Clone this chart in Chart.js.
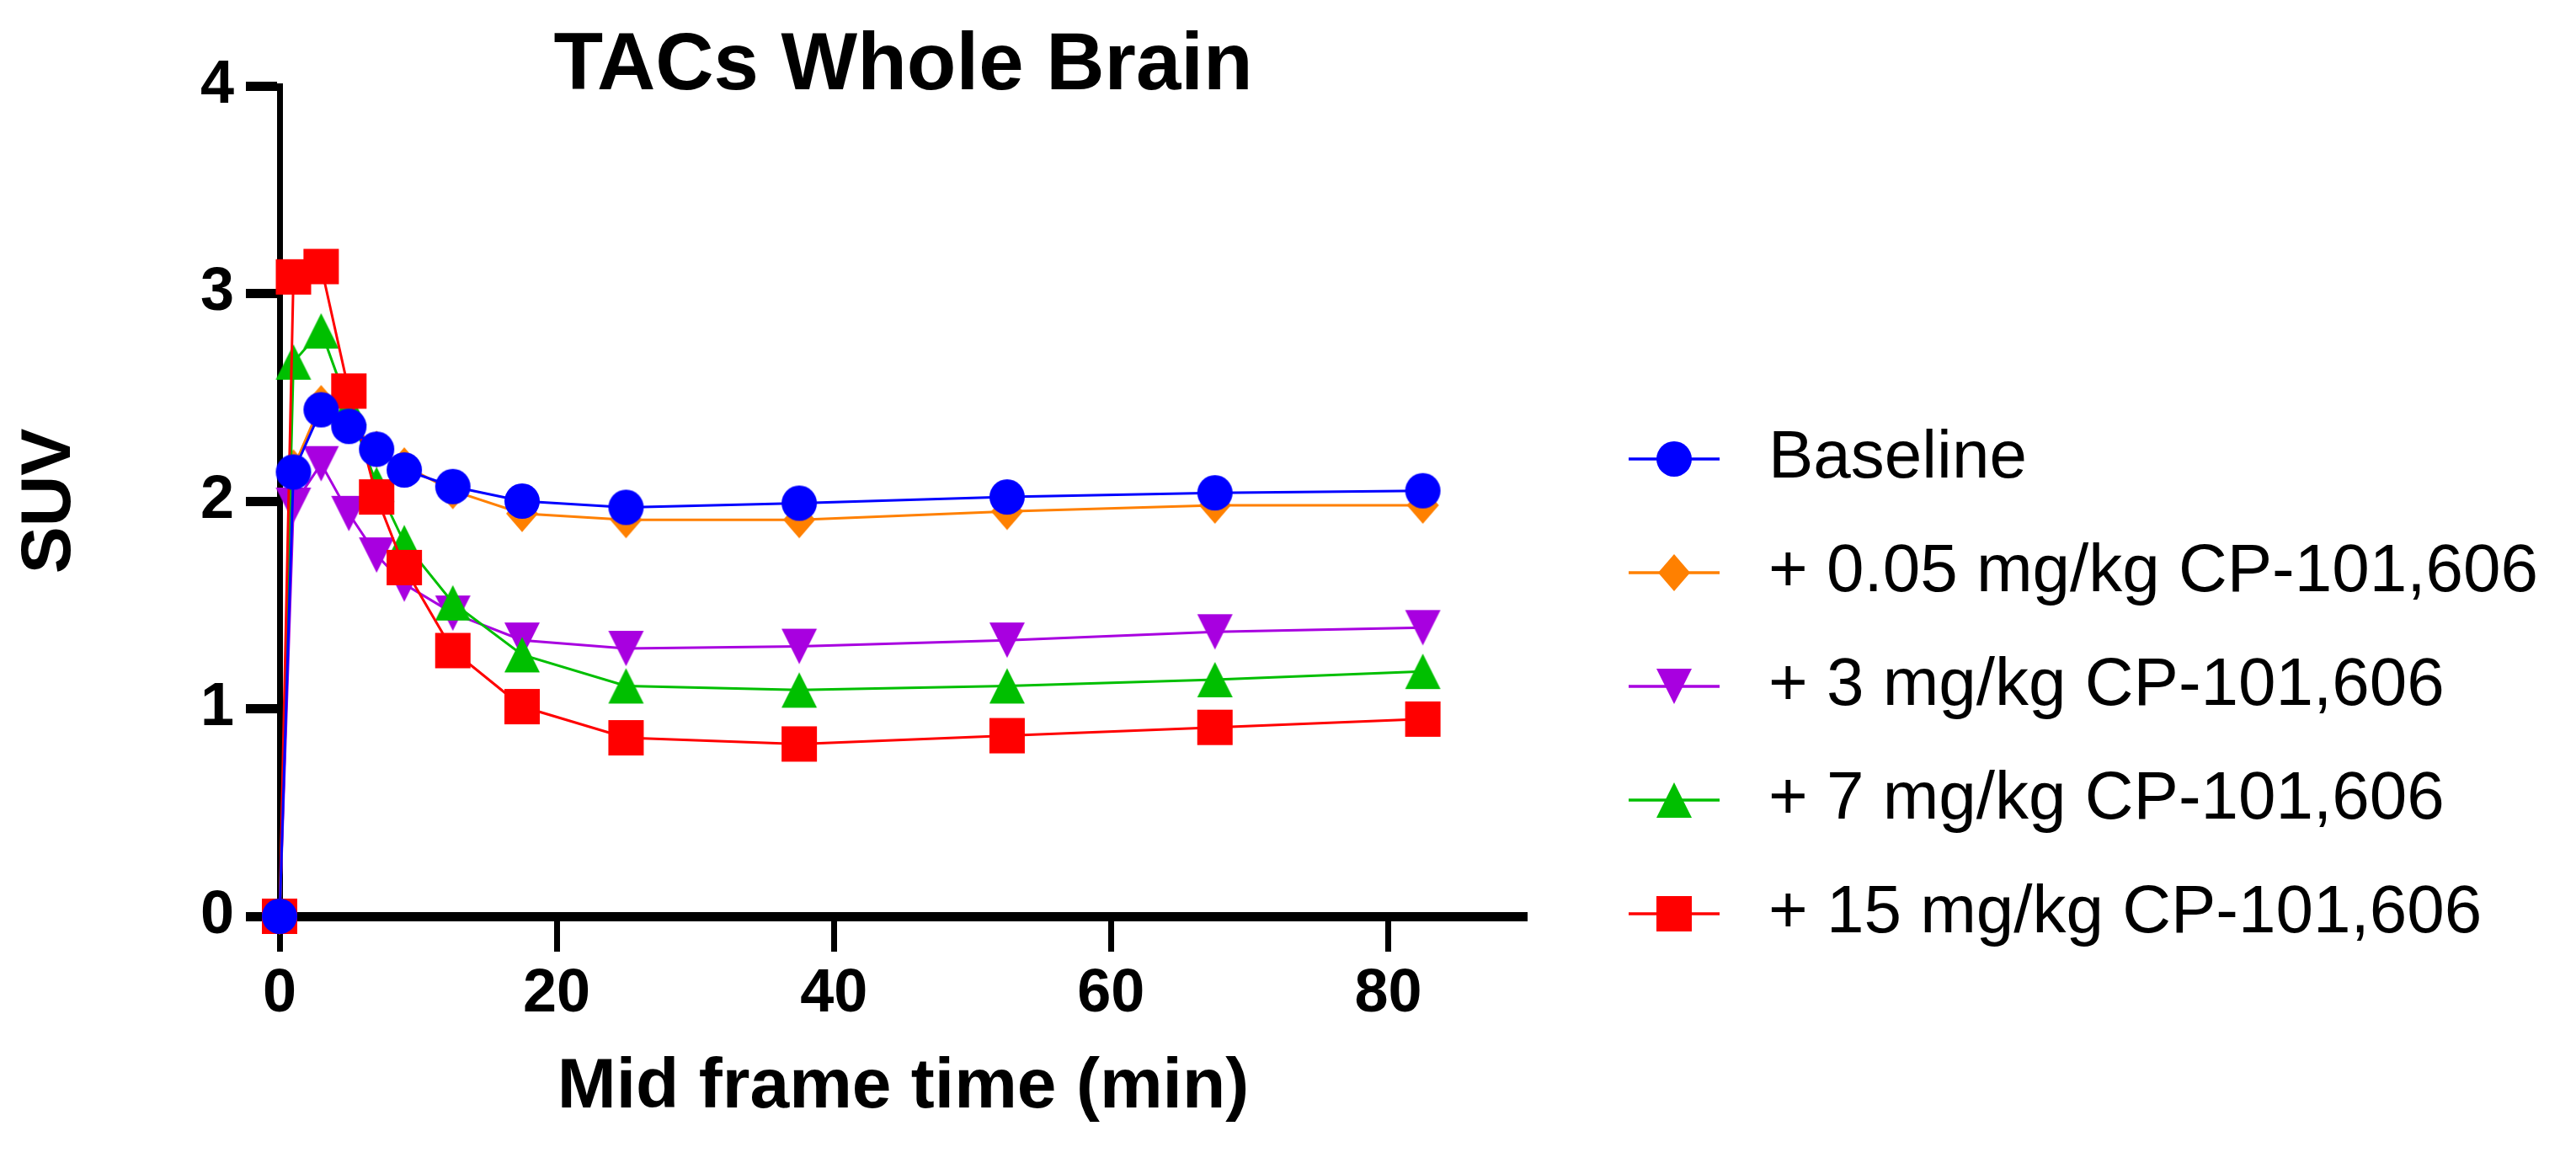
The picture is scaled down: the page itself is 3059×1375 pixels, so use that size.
<!DOCTYPE html>
<html>
<head>
<meta charset="utf-8">
<script src="https://cdn.jsdelivr.net/npm/chart.js@4.4.1/dist/chart.umd.min.js"></script>
<style>
  html, body { margin: 0; padding: 0; background: #ffffff; }
  #wrap { width: 3059px; height: 1375px; position: relative; }
</style>
</head>
<body>
<div id="wrap"><canvas id="c"></canvas></div>
<script>
// ---- data ----
const times      = [0, 1, 3, 5, 7, 9, 12.5, 17.5, 25, 37.5, 52.5, 67.5, 82.5];
const baseline   = [0, 2.14, 2.44, 2.36, 2.25, 2.15, 2.07, 2.00, 1.97, 1.99, 2.02, 2.04, 2.05];
const dose005    = [0, 2.16, 2.47, 2.38, 2.25, 2.17, 2.05, 1.94, 1.91, 1.91, 1.95, 1.98, 1.98];
const dose3      = [0, 1.98, 2.18, 1.94, 1.74, 1.60, 1.46, 1.33, 1.29, 1.30, 1.33, 1.37, 1.39];
const dose7      = [0, 2.67, 2.82, 2.45, 2.08, 1.80, 1.51, 1.26, 1.11, 1.09, 1.11, 1.14, 1.18];
const dose15     = [0, 3.08, 3.13, 2.53, 2.02, 1.68, 1.28, 1.01, 0.86, 0.83, 0.87, 0.91, 0.95];
const seriesNames = ['Baseline', '+ 0.05 mg/kg CP-101,606', '+ 3 mg/kg CP-101,606',
                     '+ 7 mg/kg CP-101,606', '+ 15 mg/kg CP-101,606'];
const xTickValues = [0, 20, 40, 60, 80];
const yTickValues = [0, 1, 2, 3, 4];
const chartTitle = 'TACs Whole Brain';
const xTitle = 'Mid frame time (min)';
const yTitle = 'SUV';

// ---- styling ----
const FONT = "'Liberation Sans', Arial, Helvetica, sans-serif";
const colors = ['#0000FF', '#FF8000', '#A800E0', '#00BF00', '#FF0000'];
const shapes = ['circle', 'diamond', 'triDown', 'triUp', 'square'];
const drawOrder = [0, 4, 3, 2, 1];   // lower = drawn on top
const seriesValues = [baseline, dose005, dose3, dose7, dose15];

function drawShape(ctx, shape, cx, cy, color) {
  ctx.fillStyle = color;
  ctx.beginPath();
  if (shape === 'circle') {
    ctx.arc(cx, cy, 21, 0, Math.PI * 2);
  } else if (shape === 'square') {
    ctx.rect(cx - 21, cy - 21, 42, 42);
  } else if (shape === 'diamond') {
    ctx.moveTo(cx, cy - 22); ctx.lineTo(cx + 19, cy); ctx.lineTo(cx, cy + 22); ctx.lineTo(cx - 19, cy);
    ctx.closePath();
  } else if (shape === 'triUp') {
    ctx.moveTo(cx, cy - 21); ctx.lineTo(cx + 21, cy + 21); ctx.lineTo(cx - 21, cy + 21);
    ctx.closePath();
  } else if (shape === 'triDown') {
    ctx.moveTo(cx - 21, cy - 21); ctx.lineTo(cx + 21, cy - 21); ctx.lineTo(cx, cy + 21);
    ctx.closePath();
  }
  ctx.fill();
}

function makeMarker(shape, color) {
  const cv = document.createElement('canvas');
  cv.width = 46; cv.height = 46;
  drawShape(cv.getContext('2d'), shape, 23, 23, color);
  return cv;
}

const LEG_W = 192;
function makeLegendSymbol(shape, color) {
  const cv = document.createElement('canvas');
  cv.width = LEG_W; cv.height = 50;
  const ctx = cv.getContext('2d');
  ctx.strokeStyle = color; ctx.lineWidth = 3.5;
  ctx.beginPath(); ctx.moveTo(66, 25); ctx.lineTo(174, 25); ctx.stroke();
  drawShape(ctx, shape, 120, 25, color);
  return cv;
}

const markers = shapes.map((s, i) => makeMarker(s, colors[i]));
const legendSymbols = shapes.map((s, i) => makeLegendSymbol(s, colors[i]));

const datasets = seriesNames.map((name, i) => ({
  label: name,
  data: times.map((t, k) => ({ x: t, y: seriesValues[i][k] })),
  showLine: true,
  borderColor: colors[i],
  backgroundColor: colors[i],
  borderWidth: 3,
  tension: 0,
  pointStyle: markers[i],
  pointRadius: 21,
  order: drawOrder[i],
  clip: false
}));

const TARGET_RIGHT = 1813;
const BASE_PAD_RIGHT = 16;

const chart = new Chart(document.getElementById('c'), {
  type: 'scatter',
  data: { datasets },
  options: {
    responsive: true,
    maintainAspectRatio: false,
    devicePixelRatio: 1,
    animation: false,
    events: [],
    layout: { padding: { left: 0, right: BASE_PAD_RIGHT, top: 0, bottom: 0 } },
    scales: {
      x: {
        type: 'linear',
        min: 0, max: 90,
        afterFit: (s) => { s.height = 287; },
        afterBuildTicks: (s) => { s.ticks = xTickValues.map(v => ({ value: v })); },
        ticks: {
          includeBounds: false,
          color: '#000',
          padding: 15,
          maxRotation: 0,
          font: { family: FONT, size: 72, weight: 'bold', lineHeight: 1 }
        },
        grid: {
          display: true, drawOnChartArea: false, drawTicks: true,
          tickLength: 42, tickWidth: 7, tickColor: '#000'
        },
        border: { display: true, color: '#000', width: 11 },
        title: {
          display: true, text: xTitle, color: '#000',
          font: { family: FONT, size: 84, weight: 'bold', lineHeight: 1 },
          padding: { top: 0, bottom: 41 }
        }
      },
      y: {
        type: 'linear',
        min: 0, max: 4,
        afterFit: (s) => { s.width = 332; },
        afterBuildTicks: (s) => { s.ticks = yTickValues.map(v => ({ value: v })); },
        ticks: {
          color: '#000',
          padding: 14,
          font: { family: FONT, size: 72, weight: 'bold', lineHeight: 1 }
        },
        grid: {
          display: true, drawOnChartArea: false, drawTicks: true,
          tickLength: 40, tickWidth: 11, tickColor: '#000'
        },
        border: { display: true, color: '#000', width: 7 },
        title: {
          display: true, text: yTitle, color: '#000',
          font: { family: FONT, size: 84, weight: 'bold', lineHeight: 1 },
          padding: { top: 18, bottom: 0 }
        }
      }
    },
    plugins: {
      tooltip: { enabled: false },
      title: {
        display: true, text: chartTitle, color: '#000', fullSize: false,
        font: { family: FONT, size: 96, weight: 'bold', lineHeight: 1 },
        padding: { top: 32, bottom: -26 }
      },
      legend: {
        display: true,
        position: 'right',
        align: 'start',
        maxWidth: 1400,
        title: { display: true, text: '', font: { size: 1, lineHeight: 1 }, padding: { top: 449, bottom: 0 } },
        labels: {
          usePointStyle: true,
          pointStyleWidth: LEG_W,
          padding: 55,
          color: '#000',
          font: { family: FONT, size: 80, weight: 'normal', lineHeight: 1 },
          generateLabels: (ch) => ch.data.datasets.map((ds, i) => ({
            text: ds.label,
            pointStyle: legendSymbols[i],
            fillStyle: colors[i],
            strokeStyle: colors[i],
            lineWidth: 0,
            hidden: false,
            datasetIndex: i,
            fontColor: '#000'
          }))
        }
      }
    }
  }
});

// fine-tune the right padding so the plot area ends where the reference's does
const diff = chart.chartArea.right - TARGET_RIGHT;
if (Math.abs(diff) > 0.5) {
  chart.options.layout.padding.right = Math.max(0, BASE_PAD_RIGHT + diff);
  chart.update();
}
</script>
</body>
</html>
